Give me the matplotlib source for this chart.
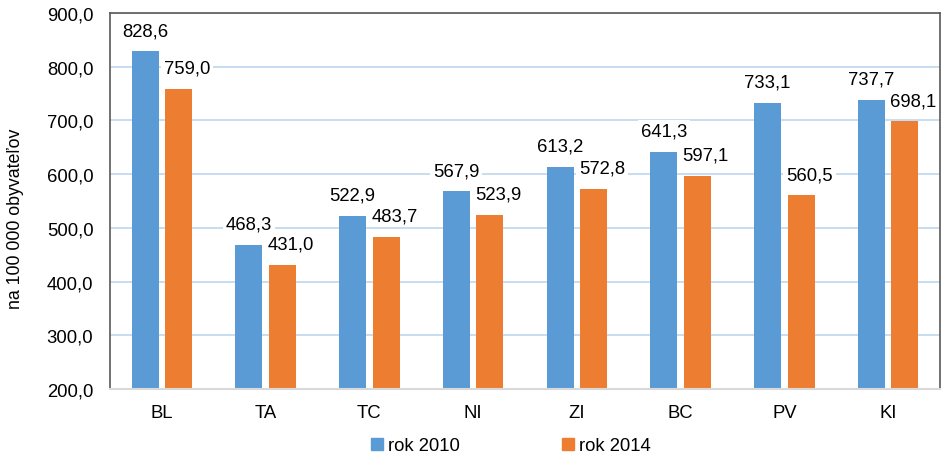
import matplotlib
matplotlib.use("Agg")
import matplotlib.pyplot as plt
import numpy as np
from matplotlib.patches import Patch

categories = ["BL", "TA", "TC", "NI", "ZI", "BC", "PV", "KI"]
values_2010 = [828.6, 468.3, 522.9, 567.9, 613.2, 641.3, 733.1, 737.7]
values_2014 = [759.0, 431.0, 483.7, 523.9, 572.8, 597.1, 560.5, 698.1]
series_names = ["rok 2010", "rok 2014"]
yticks = [200, 300, 400, 500, 600, 700, 800, 900]
ylabel = "na 100 000 obyvateľov"

plt.rcParams['font.family'] = ['Liberation Sans', 'DejaVu Sans']

W, H = 948, 456
fig = plt.figure(figsize=(W / 100, H / 100), dpi=100)
left, right, top, bottom = 110, 940, 14, 390
ax = fig.add_axes([left / W, 1 - bottom / H, (right - left) / W, (bottom - top) / H])

blue = "#5B9BD5"
orange = "#ED7D31"
fs = 13.3
x = np.arange(len(categories))
bw = 0.26
off = 0.162
ax.bar(x - off, np.array(values_2010) - 200, bw, bottom=200, color=blue, label=series_names[0], zorder=2)
ax.bar(x + off, np.array(values_2014) - 200, bw, bottom=200, color=orange, label=series_names[1], zorder=2)

ax.set_xlim(-0.5, len(categories) - 0.5)
ax.set_ylim(200, 900)
ax.set_yticks(yticks)
ax.set_yticklabels([f"{v:.1f}".replace(".", ",") for v in yticks], fontsize=fs)
ax.set_xticks(x)
ax.set_xticklabels(categories, fontsize=fs)
ax.tick_params(axis='both', length=0, colors="#000000")
ax.tick_params(axis='y', pad=12)
ax.tick_params(axis='x', pad=11)
ax.yaxis.grid(True, color="#BDD7EE", linewidth=1.2, zorder=0)
ax.set_axisbelow(True)
for s in ["left", "top", "right"]:
    ax.spines[s].set_color("#595959")
    ax.spines[s].set_linewidth(1.2)
ax.spines["bottom"].set_color("#D9D9D9")
ax.spines["bottom"].set_linewidth(1.5)

def fmt(v):
    return f"{v:.1f}".replace(".", ",")

for xi, v in zip(x, values_2010):
    ax.annotate(fmt(v), (xi - off, v), xytext=(0, 15), textcoords="offset points",
                ha="center", va="center", fontsize=fs, zorder=4,
                bbox=dict(boxstyle="square,pad=0.15", fc="white", ec="none"))
for xi, v in zip(x, values_2014):
    ax.annotate(fmt(v), (xi + off, v), xytext=(6, 15), textcoords="offset points",
                ha="center", va="center", fontsize=fs, zorder=4,
                bbox=dict(boxstyle="square,pad=0.15", fc="white", ec="none"))

fig.text(16 / W, 1 - 219 / H, ylabel, rotation=90, ha="center", va="center", fontsize=12.8)

handles = [Patch(color=blue), Patch(color=orange)]
fig.legend(handles, series_names, loc="center", bbox_to_anchor=(511 / W, 1 - 447 / H),
           ncol=2, frameon=False, fontsize=fs, handlelength=0.65, handleheight=0.65,
           handletextpad=0.3, columnspacing=5.5)

fig.savefig("out.png", dpi=100)
